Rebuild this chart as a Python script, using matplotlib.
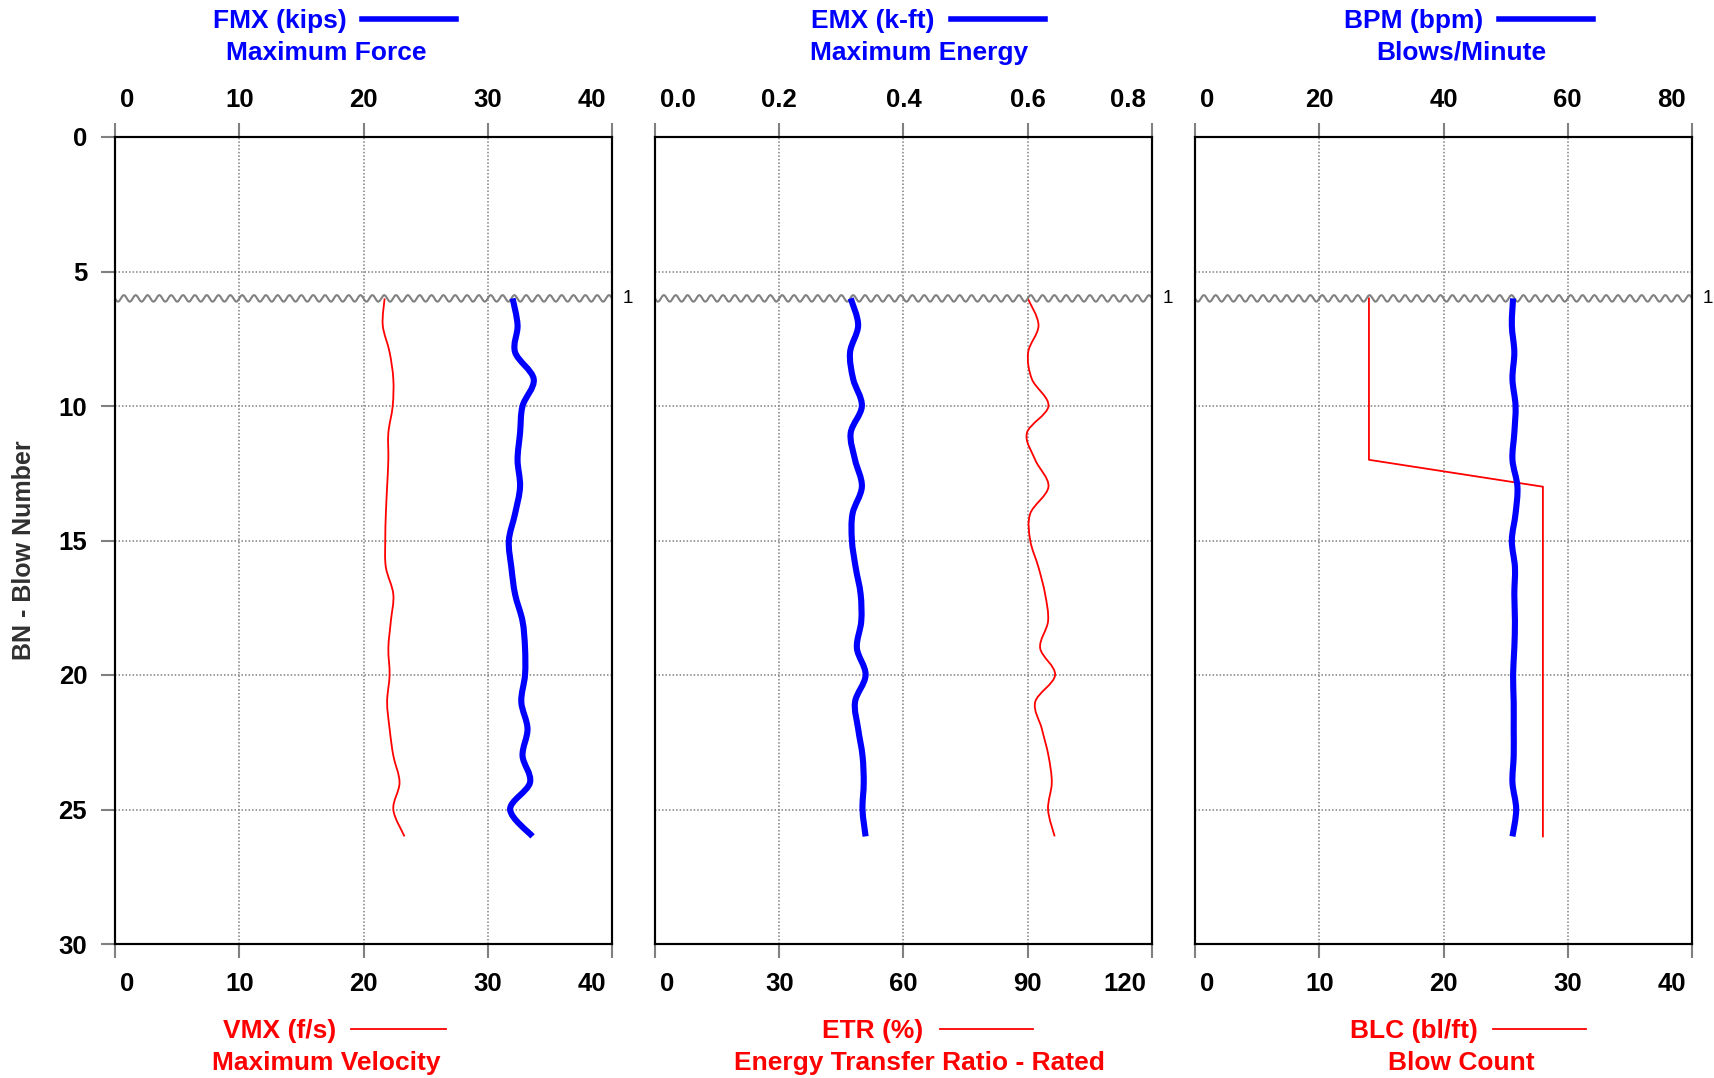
import numpy as np
import matplotlib
matplotlib.use('Agg')
import matplotlib.pyplot as plt
from matplotlib.path import Path
from matplotlib.patches import PathPatch
from matplotlib.lines import Line2D
import matplotlib.transforms as mtrans

plt.rcParams['font.family'] = ['Liberation Sans', 'DejaVu Sans']
plt.rcParams['font.weight'] = 'bold'

# blow numbers and the six traces
blows = [6, 7, 8, 9, 10, 11, 12, 13, 14, 15, 16, 17, 18, 19, 20, 21, 22, 23, 24, 25, 26]
fmx = [32.0, 32.4, 32.2, 33.7, 32.8, 32.6, 32.4, 32.6, 32.2, 31.7, 31.9,
       32.2, 32.8, 33.0, 33.0, 32.7, 33.2, 32.8, 33.4, 31.8, 33.6]
vmx = [21.7, 21.55, 22.1, 22.4, 22.35, 22.0, 22.0, 21.9, 21.8, 21.75, 21.8,
       22.4, 22.2, 22.0, 22.1, 21.9, 22.1, 22.4, 22.9, 22.4, 23.3]
emx = [0.315, 0.327, 0.314, 0.319, 0.333, 0.315, 0.322, 0.333, 0.318, 0.317, 0.323,
       0.331, 0.332, 0.325, 0.339, 0.322, 0.327, 0.334, 0.336, 0.334, 0.339]
etr = [90.0, 92.6, 90.1, 91.0, 95.0, 89.8, 91.8, 95.0, 90.6, 90.6, 92.6,
       94.2, 94.9, 93.0, 96.6, 91.8, 93.4, 95.0, 95.8, 94.9, 96.5]
bpm = [51.2, 51.0, 51.4, 51.1, 51.6, 51.4, 51.1, 51.9, 51.6, 51.0, 51.5,
       51.4, 51.5, 51.4, 51.2, 51.3, 51.3, 51.3, 51.1, 51.7, 51.1]
blc = [14, 14, 14, 14, 14, 14, 14, 28, 28, 28, 28,
       28, 28, 28, 28, 28, 28, 28, 28, 28, 28]

top_names = ['FMX (kips)', 'EMX (k-ft)', 'BPM (bpm)']
top_desc = ['Maximum Force', 'Maximum Energy', 'Blows/Minute']
bot_names = ['VMX (f/s)', 'ETR (%)', 'BLC (bl/ft)']
bot_desc = ['Maximum Velocity', 'Energy Transfer Ratio - Rated', 'Blow Count']
top_ticks = [[0, 10, 20, 30, 40], [0.0, 0.2, 0.4, 0.6, 0.8], [0, 20, 40, 60, 80]]
top_labels = [['0', '10', '20', '30', '40'], ['0.0', '0.2', '0.4', '0.6', '0.8'],
              ['0', '20', '40', '60', '80']]
bot_ticks = [[0, 10, 20, 30, 40], [0, 30, 60, 90, 120], [0, 10, 20, 30, 40]]
top_data = [fmx, emx, bpm]
bot_data = [vmx, etr, blc]
bot_smooth = [True, True, False]
y_ticks = [0, 5, 10, 15, 20, 25, 30]
marker_blow = 6
marker_label = '1'

BLUE = '#0000ff'
RED = '#ff0000'
GREY = '#808080'

W, H = 1714, 1078
fig = plt.figure(figsize=(W / 100, H / 100), dpi=100)


def smooth_patch(xs, ys, color, lw):
    pts = np.column_stack([xs, ys]).astype(float)
    n = len(pts)
    verts = [pts[0]]
    codes = [Path.MOVETO]
    for i in range(n - 1):
        p0 = pts[max(i - 1, 0)]
        p1 = pts[i]
        p2 = pts[i + 1]
        p3 = pts[min(i + 2, n - 1)]
        verts += [p1 + (p2 - p0) / 6, p2 - (p3 - p1) / 6, p2]
        codes += [Path.CURVE4] * 3
    return PathPatch(Path(verts, codes), fill=False, edgecolor=color, lw=lw,
                     capstyle='butt', joinstyle='round')


def fx(px):
    return px / W


def fy(py):
    return 1 - py / H


def nudge_edges(a):
    labs = a.get_xticklabels()
    labs[0].set_ha('left')
    labs[-1].set_ha('right')
    labs[0].set_transform(labs[0].get_transform() +
                          mtrans.ScaledTranslation(5 / 100, 0, fig.dpi_scale_trans))
    labs[-1].set_transform(labs[-1].get_transform() +
                           mtrans.ScaledTranslation(-6 / 100, 0, fig.dpi_scale_trans))


lefts = [115, 655, 1195]
ax_w = 497
top_px, bot_px = 137, 944
title_c = [326, 919, 1461]
name_c = [280, 873, 1414]
top_line = [(362, 456), (951, 1045), (1499, 1593)]
bot_line = [(351, 446), (940, 1033), (1493, 1586)]

for k in range(3):
    ax = fig.add_axes([fx(lefts[k]), fy(bot_px), fx(ax_w), (bot_px - top_px) / H])
    axt = ax.twiny()

    bt = bot_ticks[k]
    tt = top_ticks[k]
    ax.set_xlim(bt[0], bt[-1])
    axt.set_xlim(tt[0], tt[-1])
    ax.set_ylim(30, 0)

    # red trace on the bottom scale
    if bot_smooth[k]:
        ax.add_patch(smooth_patch(bot_data[k], blows, RED, 1.3))
    else:
        ax.plot(bot_data[k], blows, color=RED, lw=1.3)
    # blue trace on the top scale
    axt.add_patch(smooth_patch(top_data[k], blows, BLUE, 4.4))
    axt.set_ylim(30, 0)

    # grid
    for v in bt[1:-1]:
        ax.axvline(v, color=GREY, lw=1.1, ls=(0, (1, 1.3)), zorder=0)
    for v in y_ticks[1:-1]:
        ax.axhline(v, color=GREY, lw=1.1, ls=(0, (1, 1.3)), zorder=0)

    # wavy marker line
    t = np.linspace(0, 1, 2000)
    ax.plot(bt[0] + t * (bt[-1] - bt[0]), marker_blow + 0.12 * np.sin(2 * np.pi * 42 * t),
            color=GREY, lw=1.5, clip_on=True)
    tr = mtrans.blended_transform_factory(ax.transAxes, ax.transData)
    ax.text(1.032, marker_blow, marker_label, transform=tr, ha='center', va='center',
            fontsize=13.5, fontweight='normal', color='black')

    ax.set_xticks(bt)
    ax.set_xticklabels([str(v) for v in bt])
    axt.set_xticks(tt)
    axt.set_xticklabels(top_labels[k])
    ax.tick_params(axis='x', direction='out', length=10, width=1.5, color=GREY,
                   pad=10.5, labelsize=18.5)
    axt.tick_params(axis='x', direction='out', length=10, width=1.5, color=GREY,
                    pad=8, labelsize=18.5)
    axt.tick_params(axis='y', left=False, right=False, labelleft=False, labelright=False)
    nudge_edges(ax)
    nudge_edges(axt)
    if k == 0:
        ax.set_yticks(y_ticks)
        ax.set_yticklabels([str(v) for v in y_ticks])
        ax.tick_params(axis='y', direction='out', length=10, width=1.5, color=GREY,
                       pad=10, labelsize=18.5)
    else:
        ax.set_yticks([])
    for a in (ax, axt):
        for s in a.spines.values():
            s.set_color('black')
            s.set_linewidth(1.5)

    # titles with line keys
    fig.text(fx(name_c[k]), fy(21), top_names[k], color=BLUE, fontsize=19,
             ha='center', va='center')
    fig.text(fx(title_c[k]), fy(53), top_desc[k], color=BLUE, fontsize=19,
             ha='center', va='center')
    fig.add_artist(Line2D([fx(top_line[k][0]), fx(top_line[k][1])], [fy(19), fy(19)],
                          color=BLUE, lw=4, transform=fig.transFigure))
    fig.text(fx(name_c[k]), fy(1031), bot_names[k], color=RED, fontsize=19,
             ha='center', va='center')
    fig.text(fx(title_c[k]), fy(1063), bot_desc[k], color=RED, fontsize=19,
             ha='center', va='center')
    fig.add_artist(Line2D([fx(bot_line[k][0]), fx(bot_line[k][1])], [fy(1029), fy(1029)],
                          color=RED, lw=1.3, transform=fig.transFigure))

fig.text(fx(24), fy(550), 'BN - Blow Number', rotation=90, ha='center', va='center',
         fontsize=18, color='#303030')

fig.savefig('out.png', dpi=100)
